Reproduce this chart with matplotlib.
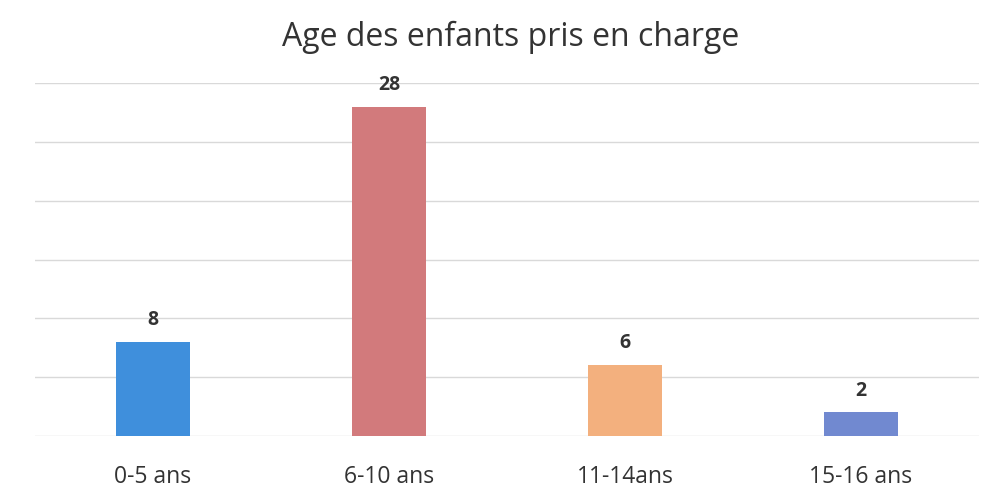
import matplotlib
matplotlib.use("Agg")
import matplotlib.pyplot as plt

categories = ["0-5 ans", "6-10 ans", "11-14ans", "15-16 ans"]
counts = [8, 28, 6, 2]
colors = ["#3f8fdc", "#d27a7c", "#f3b07e", "#7189d0"]

plt.rcParams["font.family"] = ["Open Sans", "DejaVu Sans"]

fig = plt.figure(figsize=(9.9, 5.02), dpi=100)
ax = fig.add_axes([35 / 990, 65 / 502, 944 / 990, 353 / 502])

x = range(len(categories))
bars = ax.bar(x, counts, width=0.31, color=colors, zorder=3)
for b, v in zip(bars, counts):
    ax.text(b.get_x() + b.get_width() / 2, v + 1.1, str(v), ha="center", va="bottom",
            fontsize=14, fontweight="bold", color="#333333")

ax.set_xlim(-0.5, len(categories) - 0.5)
ax.set_ylim(0, 30)
ax.set_yticks(range(0, 31, 5))
ax.yaxis.grid(True, color="#d9d9d9", lw=1)
ax.tick_params(axis="y", left=False, labelleft=False)
ax.tick_params(axis="x", length=0, pad=20, labelsize=16.5, labelcolor="#333333")
ax.set_xticks(list(x))
ax.set_xticklabels(categories)
for s in ax.spines.values():
    s.set_visible(False)

fig.text(511 / 990, 1 - 37 / 502, "Age des enfants pris en charge", ha="center", va="center",
         fontsize=23, color="#333333")

fig.savefig("out.png", dpi=100)
